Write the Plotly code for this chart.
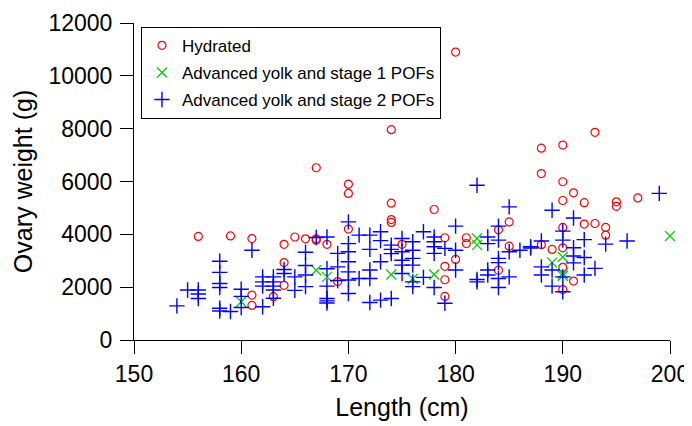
import plotly.graph_objects as go

# Hydrated (red circles)
hyd_len = [156, 159, 161, 161, 161, 163, 164, 164, 164, 165, 166, 167, 167, 167, 168, 169,
           170, 170, 170, 174, 174, 174, 174, 175, 178, 179, 179, 179, 179, 180, 180, 181,
           181, 184, 184, 185, 185, 188, 188, 188, 189, 190, 190, 190, 190, 190, 190, 190,
           191, 191, 192, 192, 193, 193, 194, 194, 195, 195, 197]
hyd_wt = [3920, 3940, 3840, 1700, 1310, 1640, 3620, 2930, 2070, 3900, 3830, 3830, 3780, 6520, 3620, 2210,
          5900, 5550, 4200, 5180, 4560, 4450, 7960, 3620, 4940, 3870, 2790, 2280, 1650, 3050, 10900, 3870,
          3650, 4170, 2640, 4470, 3550, 7260, 6300, 3610, 3430, 7380, 5990, 5280, 4260, 3490, 2750, 1910,
          5570, 2230, 5200, 4390, 7860, 4410, 4260, 3970, 5230, 5060, 5380]

# Advanced yolk and stage 1 POFs (green x)
s1_len = [160, 167, 168, 174, 176, 178, 182, 182, 189, 190, 190, 190, 200]
s1_wt = [1450, 2640, 2390, 2480, 2320, 2480, 3840, 3600, 2930, 3140, 2520, 2430, 3940]

# Advanced yolk and stage 2 POFs (blue +)
s2_len = [154, 155, 156, 156, 156,
          158, 158, 158, 158, 158, 158, 159, 160, 160, 160, 161,
          162, 162, 162, 162, 163, 163, 163, 163, 163, 164, 164, 165, 165,
          166, 166, 166, 166, 167, 168, 168, 168, 168, 168, 168, 169, 169, 169,
          170, 170, 170, 170, 170, 170, 170, 171, 171, 172, 172, 172, 172, 172,
          173, 173, 173, 173, 174, 174, 174, 174, 175, 175, 175, 175, 175,
          176, 176, 176, 176, 176, 176, 177, 177, 178, 178, 178, 178, 178,
          179, 179, 180, 180, 180, 182, 182, 182, 183, 183, 183, 183,
          184, 184, 184, 184, 184, 184, 185, 185, 185, 186, 187, 187,
          188, 188, 188, 189, 189, 189, 190, 190, 190, 190,
          191, 191, 191, 191, 192, 192, 192, 193, 194, 196, 199]
s2_wt = [1290, 1890, 1890, 1740, 1570,
         2980, 2560, 2140, 1990, 1200, 1100, 1080, 1920, 1650, 1230, 3400,
         2390, 2200, 2040, 1260, 2390, 2200, 2040, 1890, 1580, 2670, 2520, 2390, 1880,
         3320, 2820, 2460, 2020, 3880, 3900, 2700, 2040, 1570, 1480, 1400, 3280, 2770, 2250,
         4470, 3650, 3340, 2960, 2580, 2270, 1760, 3970, 2330, 3970, 3430, 2650, 2330, 1420,
         4100, 3760, 2960, 1510, 3590, 3430, 3270, 1570, 3840, 3340, 3020, 2835, 2520,
         3720, 3400, 3090, 2835, 2200, 2020, 4100, 2370, 3900, 3720, 3530, 3280, 1990,
         3470, 1390, 4310, 3400, 2650, 5860, 2290, 2200, 3900, 3650, 2650, 2460,
         4310, 3780, 3090, 2930, 2330, 1990, 5040, 3340, 2390, 3400, 3530, 3480,
         3750, 2770, 2460, 4910, 2650, 2040, 4120, 3780, 2390, 1825,
         4620, 3490, 3180, 2920, 3800, 3125, 2460, 2710, 3630, 3750, 5550]

x_ticks = [150, 160, 170, 180, 190, 200]
y_ticks = [0, 2000, 4000, 6000, 8000, 10000, 12000]

FONT = "Liberation Sans, Arial, sans-serif"

fig = go.Figure()
fig.add_trace(go.Scatter(
    x=hyd_len, y=hyd_wt, mode="markers", name="Hydrated", legendgroup="a",
    marker=dict(symbol="circle-open", size=8, color="#ff0000", line=dict(width=1.2, color="#ff0000")),
    cliponaxis=False))
fig.add_trace(go.Scatter(
    x=s1_len, y=s1_wt, mode="markers", name="Advanced yolk and stage 1 POFs", legendgroup="b",
    marker=dict(symbol="x-thin-open", size=10, color="#00d000", line=dict(width=1.3, color="#00d000")),
    cliponaxis=False))
fig.add_trace(go.Scatter(
    x=s2_len, y=s2_wt, mode="markers", name="Advanced yolk and stage 2 POFs", legendgroup="c",
    marker=dict(symbol="cross-thin-open", size=11, color="#0000ff", line=dict(width=1.4, color="#0000ff")),
    cliponaxis=False))

fig.update_layout(
    width=684, height=418,
    margin=dict(l=126, r=22, t=15, b=86),
    paper_bgcolor="white", plot_bgcolor="white",
    font=dict(family=FONT, color="black"),
    showlegend=True,
    legend=dict(
        x=0.013, y=0.988, xanchor="left", yanchor="top",
        bgcolor="white", bordercolor="black", borderwidth=1,
        font=dict(size=17, family=FONT, color="black"),
        traceorder="grouped", tracegroupgap=2,
    ),
    xaxis=dict(
        range=[150, 200], tickvals=x_ticks, ticktext=[str(v) for v in x_ticks],
        showgrid=False, zeroline=False, showline=True, linecolor="black", linewidth=1,
        ticks="outside", ticklen=13, tickcolor="black", tickwidth=1,
        tickfont=dict(size=23, family=FONT), automargin=False,
        title=dict(text="Length (cm)", font=dict(size=25, family=FONT), standoff=12),
    ),
    yaxis=dict(
        range=[0, 12000], tickvals=y_ticks, ticktext=[str(v) for v in y_ticks],
        showgrid=False, zeroline=False, showline=True, linecolor="black", linewidth=1,
        ticks="outside", ticklen=13, tickcolor="black", tickwidth=1,
        tickfont=dict(size=23, family=FONT), ticklabelstandoff=3, automargin=False,
        title=dict(text="Ovary weight (g)", font=dict(size=25, family=FONT), standoff=8),
    ),
)

fig.write_html("out.html")
